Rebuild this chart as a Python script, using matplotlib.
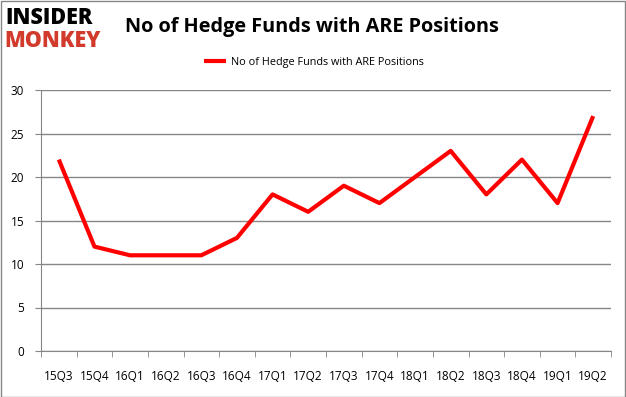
import matplotlib.pyplot as plt
import numpy as np
from matplotlib.patches import Rectangle

# data
quarters = ["15Q3", "15Q4", "16Q1", "16Q2", "16Q3", "16Q4", "17Q1", "17Q2",
            "17Q3", "17Q4", "18Q1", "18Q2", "18Q3", "18Q4", "19Q1", "19Q2"]
funds = [22, 12, 11, 11, 11, 13, 18, 16, 19, 17, 20, 23, 18, 22, 17, 27]
series_name = "No of Hedge Funds with ARE Positions"

plt.rcParams["font.family"] = ["Open Sans", "DejaVu Sans"]

fig = plt.figure(figsize=(6.26, 3.97), dpi=100)
ax = fig.add_axes([41 / 626, 1 - 351 / 397, 570 / 626, 261 / 397])

x = np.arange(len(quarters))
ax.plot(x, funds, color="#ff0000", linewidth=3, label=series_name,
        solid_joinstyle="round", solid_capstyle="butt")

ax.set_xlim(-0.5, len(quarters) - 0.5)
ax.set_ylim(0, 30)
ax.set_yticks(range(0, 31, 5))
ax.set_xticks(x)
ax.set_xticklabels(quarters)
ax.set_xticks(np.arange(-0.5, len(quarters), 1), minor=True)
ax.tick_params(axis="x", which="major", length=0, pad=14, labelsize=8.5)
ax.tick_params(axis="x", which="minor", length=4, color="#868686")
ax.tick_params(axis="y", length=4, color="#868686", labelsize=8.5, pad=8)

ax.grid(axis="y", color="#868686", linewidth=1)
ax.set_axisbelow(True)
for side in ["top", "right"]:
    ax.spines[side].set_visible(False)
for side in ["left", "bottom"]:
    ax.spines[side].set_color("#868686")

fig.text(312 / 626, 1 - 27 / 397, series_name, ha="center", va="center",
         fontsize=14.3, fontweight="bold")
fig.legend(loc="center", bbox_to_anchor=(314 / 626, 1 - 62 / 397),
           frameon=False, fontsize=7.8, handlelength=2.0, handletextpad=0.5)

# logo
fig.text(5 / 626, 1 - 18 / 397, "INSIDER", fontsize=15.5, fontweight="heavy",
         color="black", va="center", ha="left")
fig.text(4 / 626, 1 - 41 / 397, "MONKEY", fontsize=15.5, fontweight="heavy",
         color="#d23a2c", va="center", ha="left")

# outer border
fig.patches.append(Rectangle((0.5 / 626, 0.5 / 397), 624.5 / 626, 395.5 / 397,
                             transform=fig.transFigure, fill=False,
                             edgecolor="#868686", linewidth=1))

plt.savefig("out.png", dpi=100)
